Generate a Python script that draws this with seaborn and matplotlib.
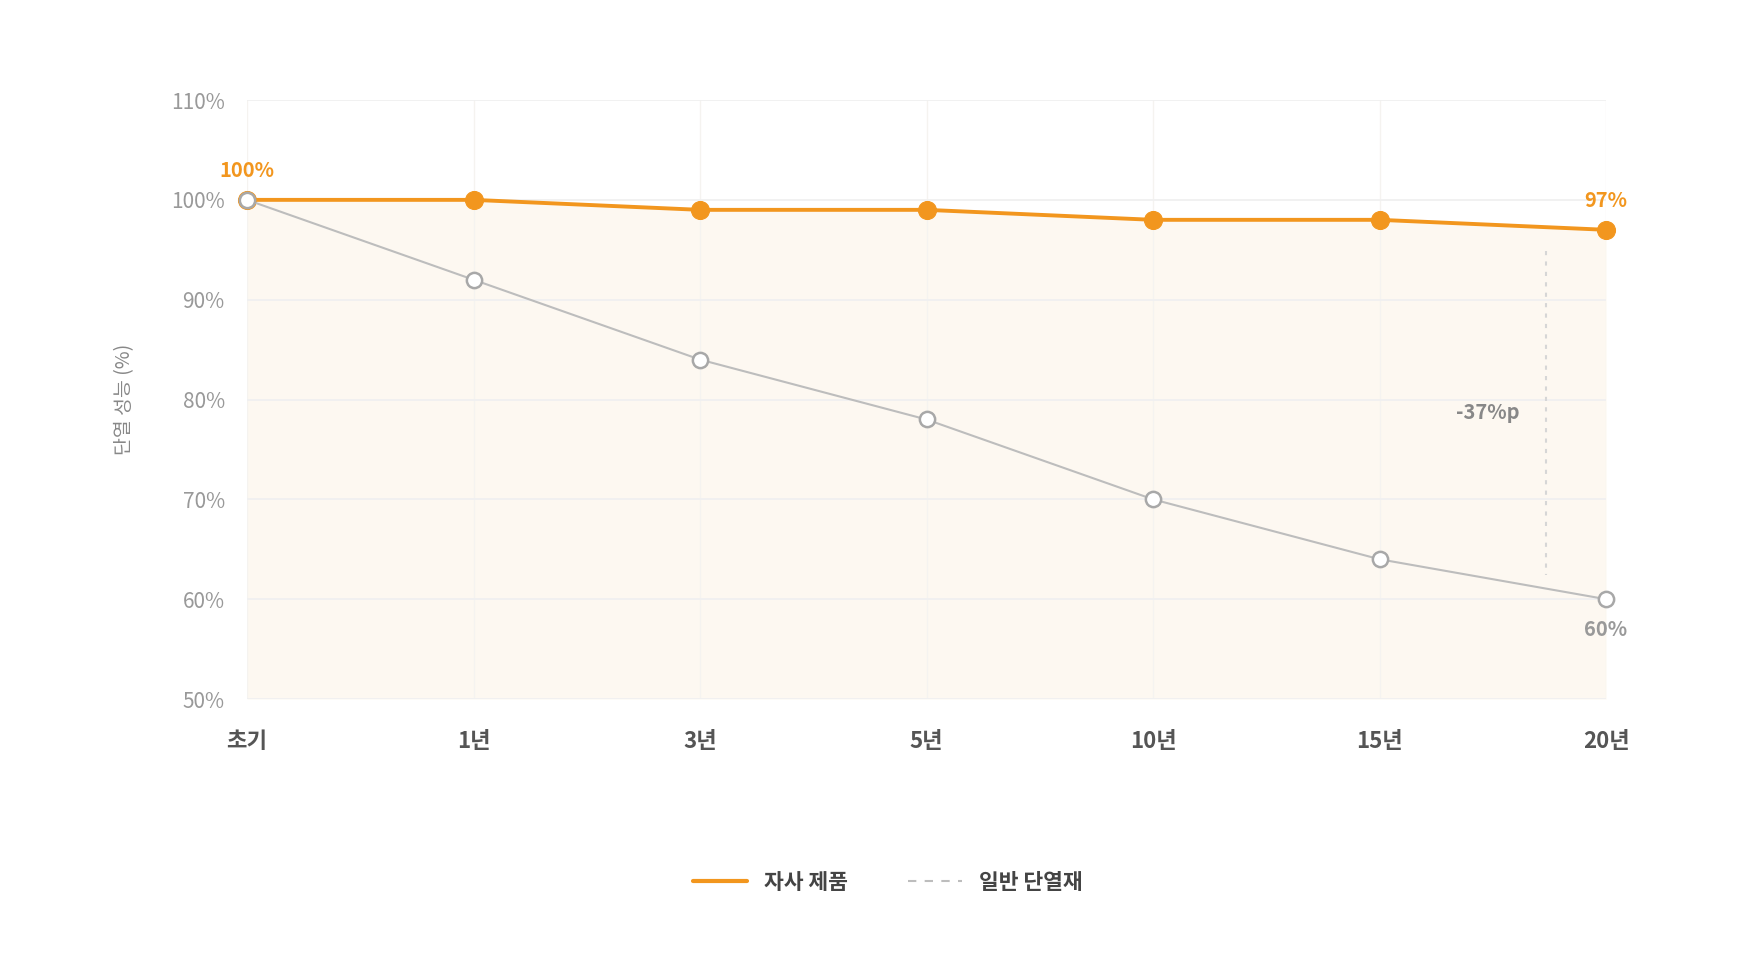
import matplotlib
matplotlib.use("Agg")
import matplotlib.pyplot as plt
import seaborn as sns
import pandas as pd
import numpy as np
from matplotlib.lines import Line2D

categories = ["초기", "1년", "3년", "5년", "10년", "15년", "20년"]
ours = [100, 100, 99, 99, 98, 98, 97]
generic = [100, 92, 84, 78, 70, 64, 60]
y_ticks = [50, 60, 70, 80, 90, 100, 110]
series_names = ["자사 제품", "일반 단열재"]

ORANGE = "#F2961E"
GRAY_LINE = "#BDBDBD"
GRAY_EDGE = "#A8A8A8"

sns.set_theme(style="white")
plt.rcParams['font.family'] = ['Noto Sans CJK KR', 'DejaVu Sans']

x = np.arange(len(categories))
df = pd.DataFrame({"x": np.concatenate([x, x]),
                   "value": ours + generic,
                   "series": [series_names[0]] * len(x) + [series_names[1]] * len(x)})

fig = plt.figure(figsize=(17.48, 9.76), dpi=100)
ax = fig.add_axes([0.1413, 0.2838, 0.9188 - 0.1413, 0.8975 - 0.2838])

ax.fill_between(x, ours, 50, color="#FDF8F1", zorder=0, linewidth=0)

sns.lineplot(data=df[df.series == series_names[0]], x="x", y="value", ax=ax,
             color=ORANGE, linewidth=2.8, marker="o", markersize=13,
             markerfacecolor=ORANGE, markeredgecolor=ORANGE, legend=False, zorder=3,
             clip_on=False)
sns.lineplot(data=df[df.series == series_names[1]], x="x", y="value", ax=ax,
             color=GRAY_LINE, linewidth=1.5, marker="o", markersize=11,
             markerfacecolor="white", markeredgecolor=GRAY_EDGE, markeredgewidth=1.8,
             legend=False, zorder=4, clip_on=False)

ax.set_xlim(0, len(categories) - 1)
ax.set_ylim(50, 110)
ax.set_xticks(x)
ax.set_xticklabels(categories, fontsize=16, color="#555555", fontweight="bold")
ax.set_yticks(y_ticks)
ax.set_yticklabels([f"{v}%" for v in y_ticks], fontsize=15, color="#999999")
ax.tick_params(axis="x", length=0, pad=22)
ax.tick_params(axis="y", length=0, pad=16)
ax.yaxis.grid(True, color="#F0F0F0", linewidth=1.3)
ax.xaxis.grid(True, color="#F5F3F0", linewidth=1.0)
ax.set_axisbelow(True)
for s in ax.spines.values():
    s.set_visible(False)
ax.set_xlabel("")
ax.set_ylabel("단열 성능 (%)", fontsize=14, color="#888888", labelpad=26)

# annotations
ax.text(0, ours[0] + 1.9, f"{ours[0]}%", color=ORANGE, fontsize=14.5,
        fontweight="bold", ha="center", va="bottom")
ax.text(6, ours[-1] + 1.9, f"{ours[-1]}%", color=ORANGE, fontsize=14.5,
        fontweight="bold", ha="center", va="bottom")
ax.text(6, generic[-1] - 2.0, f"{generic[-1]}%", color="#999999", fontsize=14.5,
        fontweight="bold", ha="center", va="top")

gap = ours[-1] - generic[-1]
ax.plot([5.735, 5.735], [94.9, 62.4], color="#D6D6D6", linewidth=1.5,
        linestyle=(0, (2, 3)), zorder=2)
ax.text(5.48, 78.7, f"-{gap}%p", color="#888888", fontsize=14.5,
        fontweight="bold", ha="center", va="center")

handles = [Line2D([0], [0], color=ORANGE, linewidth=3),
           Line2D([0], [0], color=GRAY_LINE, linewidth=1.5, linestyle=(0, (4, 4)))]
leg = fig.legend(handles, series_names, loc="center", bbox_to_anchor=(0.508, 0.096),
                 ncol=2, frameon=False, fontsize=15.5, handlelength=2.5,
                 columnspacing=2.8, handletextpad=0.8)
for t in leg.get_texts():
    t.set_color("#444444")
    t.set_fontweight("bold")

fig.savefig("out.png", dpi=100, facecolor="white")
